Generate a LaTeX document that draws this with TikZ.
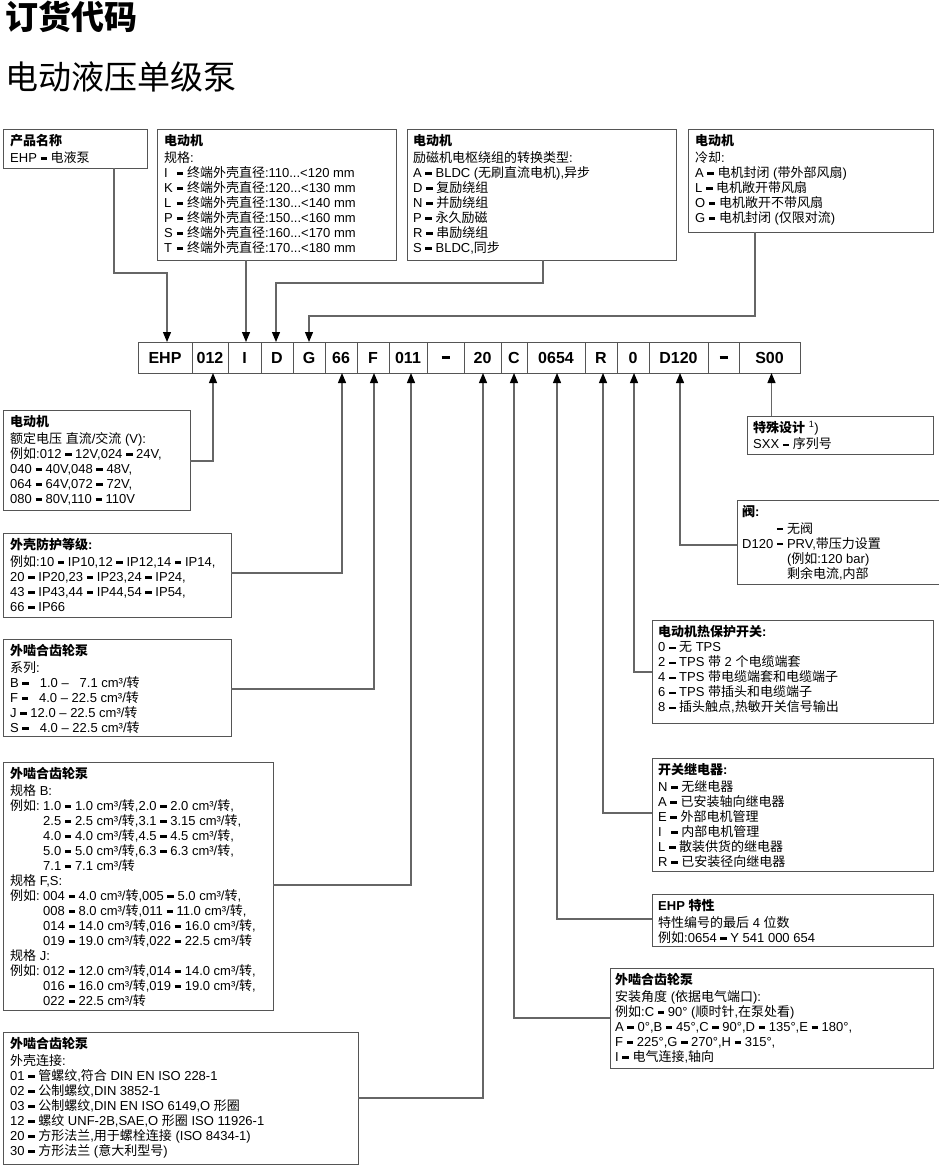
\documentclass[tikz,border=0pt]{standalone}
\usepackage{fontspec}
\setmainfont{Liberation Sans}
\newfontfamily\latinfont{Liberation Sans}
\newfontfamily\cjkfont{Noto Sans CJK SC}
\usetikzlibrary{arrows.meta}
\XeTeXinterchartokenstate=1
\newXeTeXintercharclass\CJKclass
\newcount\cjkc
\def\setcjkrange#1#2{\cjkc=#1\relax\loop\XeTeXcharclass\cjkc=\CJKclass\relax\ifnum\cjkc<#2\relax\advance\cjkc by 1\relax\repeat}
\setcjkrange{"3000}{"303F}
\setcjkrange{"4E00}{"9FFF}
\setcjkrange{"FF00}{"FFEF}
\XeTeXinterchartoks 0 \CJKclass = {\cjkfont}
\XeTeXinterchartoks 4095 \CJKclass = {\cjkfont}
\XeTeXinterchartoks \CJKclass 0 = {\latinfont}
\XeTeXinterchartoks \CJKclass 4095 = {\latinfont}
\definecolor{boxc}{HTML}{555555}
\definecolor{linec}{HTML}{666666}
\newcommand\db{\hspace{0.278em}\rule[0.2em]{0.5em}{0.2em}\hspace{0.278em}}
\newcommand\cdash{\rule{0.5em}{0.18em}}
\newcommand\lI[2][0.7em]{\makebox[#1][l]{#2}}
\newcommand\rng[2]{\makebox[1.95em][r]{#1} – \makebox[1.95em][r]{#2}}
\newcommand\ex{\makebox[33pt][l]{例如:}}
\newcommand\exi{\hspace*{33pt}}
\begin{document}
\begin{tikzpicture}[x=1pt,y=-1pt,
  box/.style={draw=boxc, line width=1pt, inner sep=0pt, outer sep=0pt, anchor=north west},
  txt/.style={anchor=north west, align=left, inner sep=0pt, font=\fontsize{13}{15}\selectfont},
  cell/.style={draw=boxc, line width=1pt, fill=white, inner sep=0pt, outer sep=0pt, minimum height=31pt, font=\fontsize{16}{16}\selectfont\bfseries},
  conn/.style={draw=linec, line width=1.2pt, -{Triangle[length=10pt,width=8pt,color=black,fill=black]}}
]
\useasboundingbox (0,0) rectangle (938,1165);

% titles
\node[anchor=base west, inner sep=0pt, font=\fontsize{33}{36}\selectfont\bfseries] (t1) at (5,29) {订货代码};
\node[anchor=base west, inner sep=0pt, font=\fontsize{33}{36}\selectfont] (t2) at (5,89) {电动液压单级泵};

% code row
\node[cell, minimum width=54pt] (cEHP) at (165,357.5) {EHP};
\node[cell, minimum width=36pt] (c012) at (210,357.5) {012};
\node[cell, minimum width=33pt] (cI) at (244.5,357.5) {I};
\node[cell, minimum width=32pt] (cD) at (277,357.5) {D};
\node[cell, minimum width=32pt] (cG) at (309,357.5) {G};
\node[cell, minimum width=32pt] (c66) at (341,357.5) {66};
\node[cell, minimum width=32pt] (cF) at (373,357.5) {F};
\node[cell, minimum width=38pt] (c011) at (408,357.5) {011};
\node[cell, minimum width=37pt] (cda) at (445.5,357.5) {\cdash};
\node[cell, minimum width=37pt] (c20) at (482.5,357.5) {20};
\node[cell, minimum width=26pt] (cC) at (514,357.5) {C};
\node[cell, minimum width=58pt] (c0654) at (556,357.5) {0654};
\node[cell, minimum width=32pt] (cR) at (601,357.5) {R};
\node[cell, minimum width=32pt] (c0) at (633,357.5) {0};
\node[cell, minimum width=59pt] (cD120) at (678.5,357.5) {D120};
\node[cell, minimum width=31pt] (cdb) at (723.5,357.5) {\cdash};
\node[cell, minimum width=61pt] (cS00) at (769.5,357.5) {S00};

% boxes
\node[box, minimum width=144pt, minimum height=39pt] (bA) at (3,129) {};
\node[box, minimum width=239pt, minimum height=131pt] (bB) at (157,129) {};
\node[box, minimum width=269pt, minimum height=131pt] (bC) at (407,129) {};
\node[box, minimum width=245pt, minimum height=103pt] (bD) at (688,129) {};
\node[box, minimum width=187pt, minimum height=100pt] (bE) at (3,410) {};
\node[box, minimum width=228pt, minimum height=84pt] (bF) at (3,533) {};
\node[box, minimum width=228pt, minimum height=97pt] (bG) at (3,639) {};
\node[box, minimum width=270pt, minimum height=248pt] (bH) at (3,762) {};
\node[box, minimum width=355pt, minimum height=132pt] (bI) at (3,1032) {};
\node[box, minimum width=186pt, minimum height=38pt] (bJ) at (747,416) {};
\node[box, minimum width=205pt, minimum height=84pt] (bK) at (737,500) {};
\node[box, minimum width=281pt, minimum height=103pt] (bL) at (652,620) {};
\node[box, minimum width=281pt, minimum height=113pt] (bM) at (652,758) {};
\node[box, minimum width=281pt, minimum height=52pt] (bN) at (652,894) {};
\node[box, minimum width=323pt, minimum height=100pt] (bO) at (610,968) {};

% box texts
\node[txt] (tA) at ([shift={(7,5.5)}]bA.north west) {\strut\textbf{产品名称}\\EHP\db 电液泵};
\node[txt] (tB) at ([shift={(7,5.5)}]bB.north west) {\strut\textbf{电动机}\\规格:\\
\lI{I}\db 终端外壳直径:110...<120 mm\\
\lI{K}\db 终端外壳直径:120...<130 mm\\
\lI{L}\db 终端外壳直径:130...<140 mm\\
\lI{P}\db 终端外壳直径:150...<160 mm\\
\lI{S}\db 终端外壳直径:160...<170 mm\\
\lI{T}\db 终端外壳直径:170...<180 mm};
\node[txt] (tC) at ([shift={(6,5.5)}]bC.north west) {\strut\textbf{电动机}\\励磁机电枢绕组的转换类型:\\
A\db BLDC (无刷直流电机),异步\\D\db 复励绕组\\N\db 并励绕组\\P\db 永久励磁\\R\db 串励绕组\\S\db BLDC,同步};
\node[txt] (tD) at ([shift={(7,5.5)}]bD.north west) {\strut\textbf{电动机}\\冷却:\\
A\db 电机封闭 (带外部风扇)\\L\db 电机敞开带风扇\\O\db 电机敞开不带风扇\\G\db 电机封闭 (仅限对流)};
\node[txt] (tE) at ([shift={(7,5.5)}]bE.north west) {\strut\textbf{电动机}\\额定电压 直流/交流 (V):\\
例如:012\db 12V,024\db 24V,\\040\db 40V,048\db 48V,\\064\db 64V,072\db 72V,\\080\db 80V,110\db 110V};
\node[txt] (tF) at ([shift={(7,5.5)}]bF.north west) {\strut\textbf{外壳防护等级:}\\
例如:10\db IP10,12\db IP12,14\db IP14,\\20\db IP20,23\db IP23,24\db IP24,\\43\db IP43,44\db IP44,54\db IP54,\\66\db IP66};
\node[txt] (tG) at ([shift={(7,5.5)}]bG.north west) {\strut\textbf{外啮合齿轮泵}\\系列:\\
B\db\rng{1.0}{7.1} cm³/转\\F\db\rng{4.0}{22.5} cm³/转\\J\db\rng{12.0}{22.5} cm³/转\\S\db\rng{4.0}{22.5} cm³/转};
\node[txt] (tH) at ([shift={(7,5.5)}]bH.north west) {\strut\textbf{外啮合齿轮泵}\\规格 B:\\
\ex 1.0\db 1.0 cm³/转,2.0\db 2.0 cm³/转,\\
\exi 2.5\db 2.5 cm³/转,3.1\db 3.15 cm³/转,\\
\exi 4.0\db 4.0 cm³/转,4.5\db 4.5 cm³/转,\\
\exi 5.0\db 5.0 cm³/转,6.3\db 6.3 cm³/转,\\
\exi 7.1\db 7.1 cm³/转\\
规格 F,S:\\
\ex 004\db 4.0 cm³/转,005\db 5.0 cm³/转,\\
\exi 008\db 8.0 cm³/转,011\db 11.0 cm³/转,\\
\exi 014\db 14.0 cm³/转,016\db 16.0 cm³/转,\\
\exi 019\db 19.0 cm³/转,022\db 22.5 cm³/转\\
规格 J:\\
\ex 012\db 12.0 cm³/转,014\db 14.0 cm³/转,\\
\exi 016\db 16.0 cm³/转,019\db 19.0 cm³/转,\\
\exi 022\db 22.5 cm³/转};
\node[txt] (tI) at ([shift={(7,5.5)}]bI.north west) {\strut\textbf{外啮合齿轮泵}\\外壳连接:\\
01\db 管螺纹,符合 DIN EN ISO 228-1\\02\db 公制螺纹,DIN 3852-1\\03\db 公制螺纹,DIN EN ISO 6149,O 形圈\\
12\db 螺纹 UNF-2B,SAE,O 形圈 ISO 11926-1\\20\db 方形法兰,用于螺栓连接 (ISO 8434-1)\\30\db 方形法兰 (意大利型号)};
\node[txt] (tJ) at ([shift={(6,5)}]bJ.north west) {\strut\textbf{特殊设计} \textsuperscript{1})\\SXX\db 序列号};
\node[txt] (tK) at ([shift={(5,5.5)}]bK.north west) {\strut\textbf{阀:}\\\hphantom{D120}\db 无阀\\D120\db PRV,带压力设置\\
\hphantom{D120\db}(例如:120 bar)\\\hphantom{D120\db}剩余电流,内部};
\node[txt] (tL) at ([shift={(6,5.5)}]bL.north west) {\strut\textbf{电动机热保护开关:}\\0\db 无 TPS\\2\db TPS 带 2 个电缆端套\\
4\db TPS 带电缆端套和电缆端子\\6\db TPS 带插头和电缆端子\\8\db 插头触点,热敏开关信号输出};
\node[txt] (tM) at ([shift={(6,5.5)}]bM.north west) {\strut\textbf{开关继电器:}\\N\db 无继电器\\A\db 已安装轴向继电器\\E\db 外部电机管理\\
\lI[0.72em]{I}\db 内部电机管理\\L\db 散装供货的继电器\\R\db 已安装径向继电器};
\node[txt] (tN) at ([shift={(6,5.5)}]bN.north west) {\strut\textbf{EHP 特性}\\特性编号的最后 4 位数\\例如:0654\db Y 541 000 654};
\node[txt] (tO) at ([shift={(5,5.5)}]bO.north west) {\strut\textbf{外啮合齿轮泵}\\安装角度 (依据电气端口):\\
例如:C\db 90° (顺时针,在泵处看)\\A\db 0°,B\db 45°,C\db 90°,D\db 135°,E\db 180°,\\F\db 225°,G\db 270°,H\db 315°,\\I\db 电气连接,轴向};

% connectors from top
\coordinate (kA) at (114,273);
\coordinate (kC) at (543,283);
\coordinate (kD) at (755,316);
\draw[conn] (bA.south -| kA) -- (kA) -| ([xshift=2pt]cEHP.north);
\draw[conn] ([xshift=1.5pt]bB.south -| cI.north) -- ([xshift=1.5pt]cI.north);
\draw[conn] (bC.south -| kC) -- (kC) -| ([xshift=-1pt]cD.north);
\draw[conn] (bD.south -| kD) -- (kD) -| (cG.north);
% connectors from left
\draw[conn] (bE.east |- 0,461) -| ([xshift=3pt]c012.south);
\draw[conn] (bF.east |- 0,573) -| ([xshift=1pt]c66.south);
\draw[conn] (bG.east |- 0,689) -| ([xshift=1pt]cF.south);
\draw[conn] (bH.east |- 0,885) -| ([xshift=3pt]c011.south);
\draw[conn] (bI.east |- 0,1098) -| ([xshift=0.5pt]c20.south);
% connectors from right
\draw[conn] ([xshift=2pt]bJ.north -| cS00.south) -- ([xshift=2pt]cS00.south);
\draw[conn] (bK.west |- 0,545) -| ([xshift=1.5pt]cD120.south);
\draw[conn] (bL.west |- 0,672) -| ([xshift=1pt]c0.south);
\draw[conn] (bM.west |- 0,813) -| ([xshift=2pt]cR.south);
\draw[conn] (bN.west |- 0,919) -| ([xshift=1pt]c0654.south);
\draw[conn] (bO.west |- 0,1018) -| (cC.south);
\end{tikzpicture}
\end{document}
